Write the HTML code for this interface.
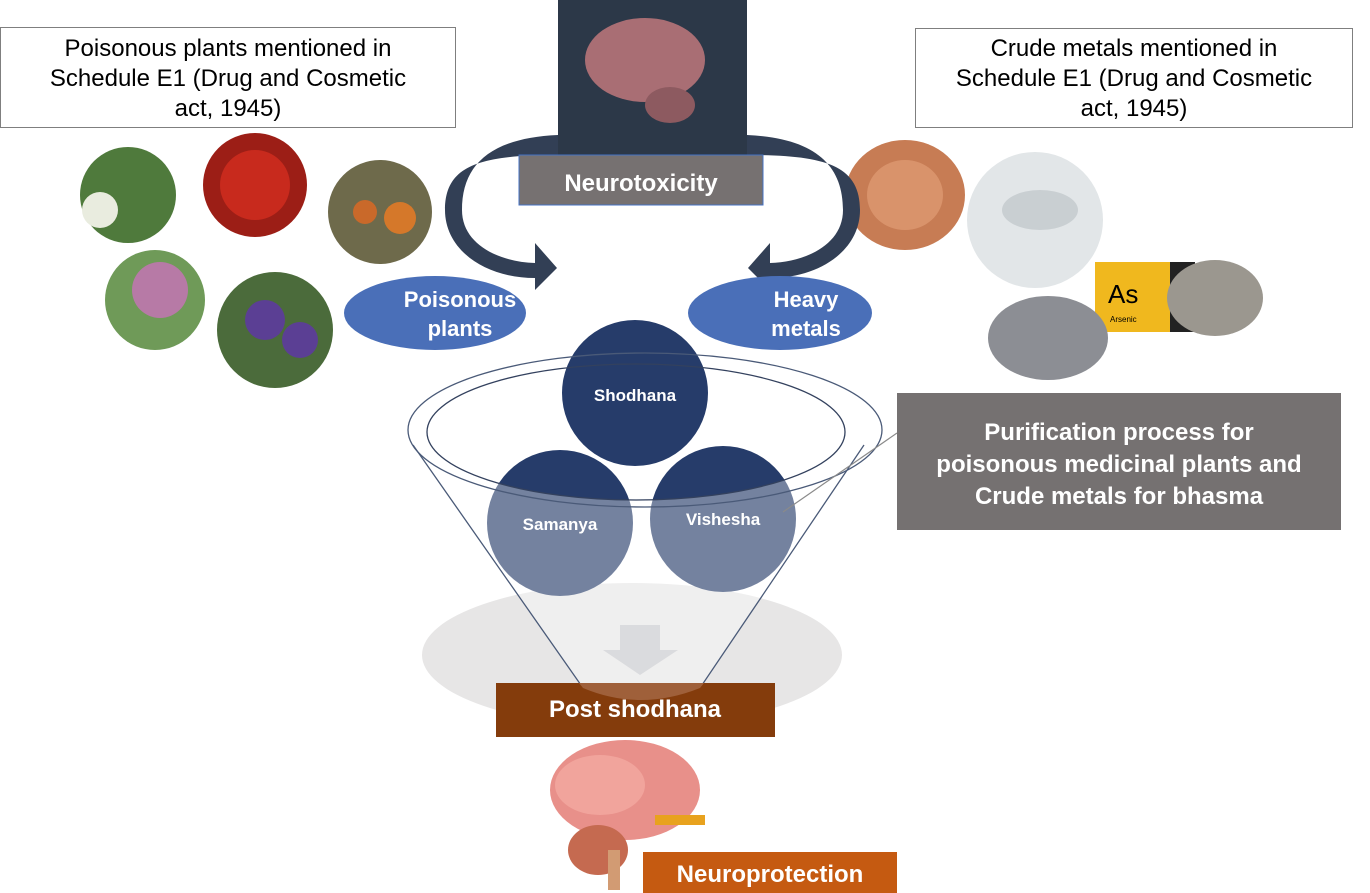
<!DOCTYPE html>
<html><head><style>
html,body{margin:0;padding:0;background:#fff;}
svg{display:block;font-family:"Liberation Sans",Arial,sans-serif;}
</style></head><body>
<svg width="1370" height="893" viewBox="0 0 1370 893" xmlns="http://www.w3.org/2000/svg">
<rect x="0.5" y="27.5" width="455" height="100" fill="#fff" stroke="#7f7f7f"/>
<text x="228" y="56" font-size="24" text-anchor="middle">Poisonous plants mentioned  in</text>
<text x="228" y="86" font-size="24" text-anchor="middle">Schedule E1 (Drug and Cosmetic</text>
<text x="228" y="116" font-size="24" text-anchor="middle">act, 1945)</text>
<rect x="915.5" y="28.5" width="437" height="99" fill="#fff" stroke="#7f7f7f"/>
<text x="1134" y="56" font-size="24" text-anchor="middle">Crude metals  mentioned in</text>
<text x="1134" y="86" font-size="24" text-anchor="middle">Schedule E1 (Drug and Cosmetic</text>
<text x="1134" y="116" font-size="24" text-anchor="middle">act, 1945)</text>
<circle cx="128" cy="195" r="48" fill="#4f7a3c"/><circle cx="100" cy="210" r="18" fill="#e9ecdf"/>
<circle cx="255" cy="185" r="52" fill="#9c1e16"/><circle cx="255" cy="185" r="35" fill="#c82a1d"/>
<circle cx="380" cy="212" r="52" fill="#6e6a4b"/><circle cx="400" cy="218" r="16" fill="#d5782a"/><circle cx="365" cy="212" r="12" fill="#c9692a"/>
<circle cx="155" cy="300" r="50" fill="#6f9a58"/><circle cx="160" cy="290" r="28" fill="#b77aa6"/>
<circle cx="275" cy="330" r="58" fill="#4b6b3b"/><circle cx="265" cy="320" r="20" fill="#5b3f94"/><circle cx="300" cy="340" r="18" fill="#5b3f94"/>
<ellipse cx="905" cy="195" rx="60" ry="55" fill="#c77c54"/><ellipse cx="905" cy="195" rx="38" ry="35" fill="#d9936b"/>
<circle cx="1035" cy="220" r="68" fill="#e2e6e8"/><ellipse cx="1040" cy="210" rx="38" ry="20" fill="#c9cfd2"/>
<rect x="1095" y="262" width="75" height="70" fill="#f0b81e"/><rect x="1170" y="262" width="25" height="70" fill="#222"/>
<text x="1108" y="303" font-size="26">As</text><text x="1110" y="322" font-size="8">Arsenic</text>
<ellipse cx="1215" cy="298" rx="48" ry="38" fill="#9b978f"/>
<ellipse cx="1048" cy="338" rx="60" ry="42" fill="#8c8e94"/>
<path d="M558,135 C490,138 462,165 462,210 C462,245 500,262 535,263 L535,243 L557,268 L535,290 L535,278 C485,278 445,250 445,210 C445,165 480,155 558,155 Z" fill="#323f55"/>
<path d="M747,135 C815,138 843,165 843,210 C843,245 805,262 770,263 L770,243 L748,268 L770,290 L770,278 C820,278 860,250 860,210 C860,165 825,155 747,155 Z" fill="#323f55"/>
<rect x="558" y="0" width="189" height="156" fill="#2c3848"/>
<ellipse cx="645" cy="60" rx="60" ry="42" fill="#a96e74"/><ellipse cx="670" cy="105" rx="25" ry="18" fill="#8d5a60"/>
<rect x="519" y="155" width="244" height="50" fill="#767171" stroke="#4472c4" stroke-width="1"/>
<text x="641" y="191" font-size="24" font-weight="bold" fill="#fff" text-anchor="middle">Neurotoxicity</text>
<ellipse cx="435" cy="313" rx="91" ry="37" fill="#4a6fb8"/>
<text x="460" y="307" font-size="22" font-weight="bold" fill="#fff" text-anchor="middle">Poisonous</text>
<text x="460" y="336" font-size="22" font-weight="bold" fill="#fff" text-anchor="middle">plants</text>
<ellipse cx="780" cy="313" rx="92" ry="37" fill="#4a6fb8"/>
<text x="806" y="307" font-size="22" font-weight="bold" fill="#fff" text-anchor="middle">Heavy</text>
<text x="806" y="336" font-size="22" font-weight="bold" fill="#fff" text-anchor="middle">metals</text>
<ellipse cx="632" cy="655" rx="210" ry="72" fill="#e7e6e6"/>
<path d="M620,625 H660 V650 H678 L640,675 L603,650 H620 Z" fill="#c6c7cb"/>
<circle cx="635" cy="393" r="73" fill="#263c6a"/>
<circle cx="560" cy="523" r="73" fill="#263c6a"/>
<circle cx="723" cy="519" r="73" fill="#263c6a"/>
<path fill-rule="evenodd" d="M427,432 L413,445 L583,688 Q640,712 700,688 L864,445 L845,432 A209 68 0 0 0 427,432 Z M427,432 A209 68 0 1 0 845,432 A209 68 0 1 0 427,432 Z" fill="#fff" fill-opacity="0.36"/>
<ellipse cx="645" cy="430" rx="237" ry="77" fill="none" stroke="#4a5a78" stroke-width="1.3"/>
<ellipse cx="636" cy="432" rx="209" ry="68" fill="none" stroke="#33415e" stroke-width="1.3"/>
<path d="M413,445 L583,688 Q640,712 700,688 L864,445" fill="none" stroke="#4a5a78" stroke-width="1.3"/>
<text x="635" y="401" font-size="17" font-weight="bold" fill="#fff" text-anchor="middle">Shodhana</text>
<text x="560" y="530" font-size="17" font-weight="bold" fill="#fff" text-anchor="middle">Samanya</text>
<text x="723" y="525" font-size="17" font-weight="bold" fill="#fff" text-anchor="middle">Vishesha</text>
<line x1="783" y1="512" x2="897" y2="433" stroke="#8a8a8a" stroke-width="1.2"/>
<rect x="897" y="393" width="444" height="137" fill="#757171"/>
<text x="1119" y="440" font-size="24" font-weight="bold" fill="#fff" text-anchor="middle">Purification process for</text>
<text x="1119" y="472" font-size="24" font-weight="bold" fill="#fff" text-anchor="middle">poisonous medicinal plants and</text>
<text x="1119" y="504" font-size="24" font-weight="bold" fill="#fff" text-anchor="middle">Crude metals for bhasma</text>
<rect x="496" y="683" width="279" height="54" fill="#843c0c"/>
<path d="M583,688 Q640,712 700,688 L704,683 H579 Z" fill="#b0785a" opacity="0.6"/>
<text x="635" y="717" font-size="24" font-weight="bold" fill="#fff" text-anchor="middle">Post shodhana</text>
<ellipse cx="625" cy="790" rx="75" ry="50" fill="#e8908a"/>
<ellipse cx="600" cy="785" rx="45" ry="30" fill="#f1a49c"/>
<rect x="655" y="815" width="50" height="10" fill="#e8a21e"/>
<ellipse cx="598" cy="850" rx="30" ry="25" fill="#c56a50"/>
<rect x="608" y="850" width="12" height="40" fill="#d29b73"/>
<rect x="643" y="852" width="254" height="41" fill="#c55a11"/>
<text x="770" y="882" font-size="24" font-weight="bold" fill="#fff" text-anchor="middle">Neuroprotection</text>
</svg>
</body></html>
